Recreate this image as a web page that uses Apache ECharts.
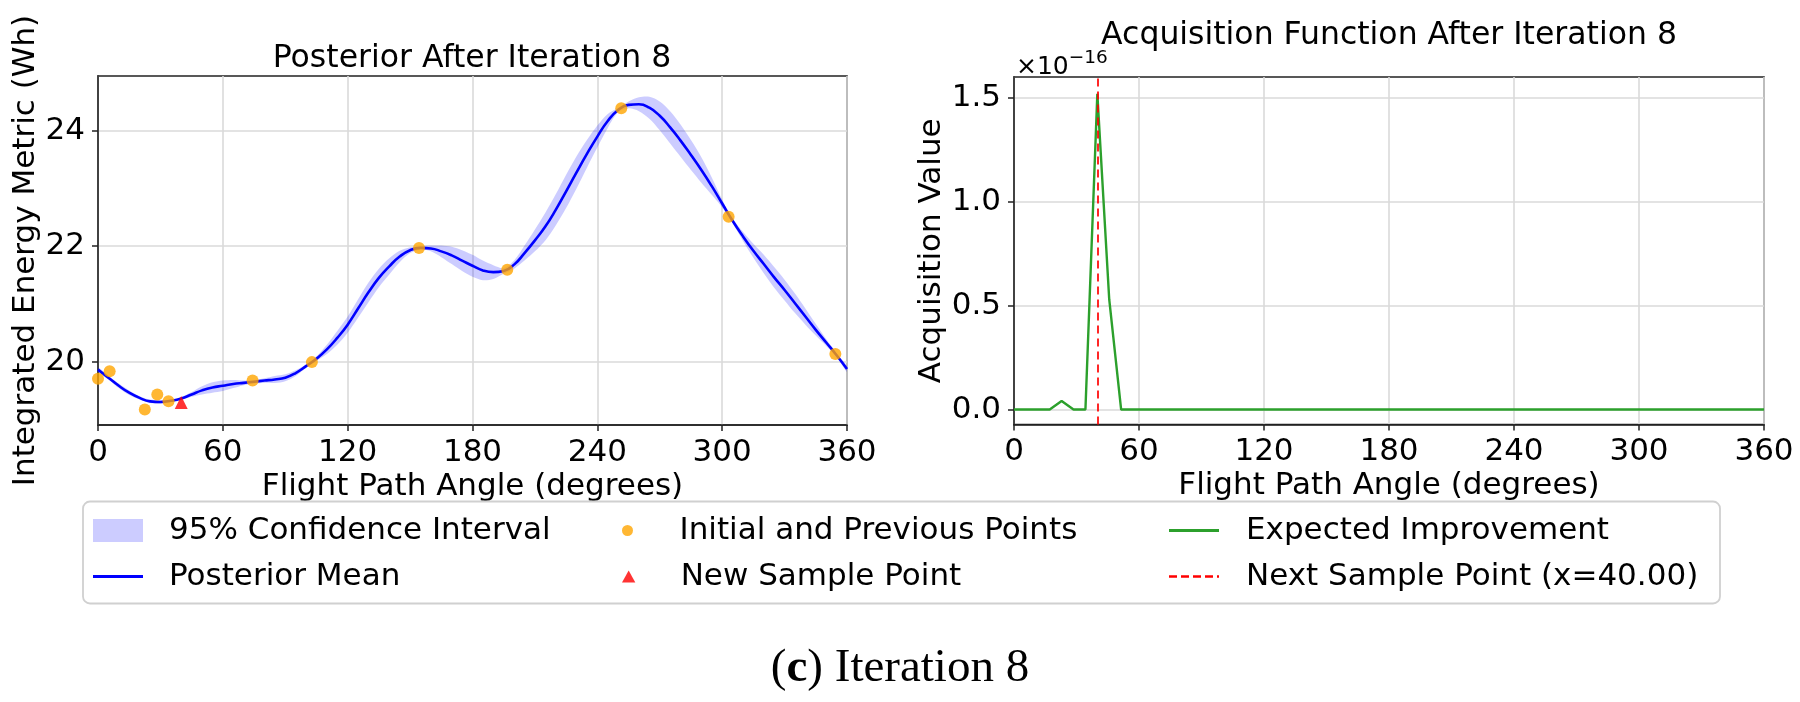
<!DOCTYPE html>
<html>
<head>
<meta charset="utf-8">
<script src="https://cdn.jsdelivr.net/npm/echarts@6/dist/echarts.min.js"></script>
<style>
html,body{margin:0;padding:0;background:#fff;}
#chart{width:1800px;height:702px;}
</style>
</head>
<body>
<div id="chart"></div>
<script>
// ---------- data ----------
const xTicks = [0, 60, 120, 180, 240, 300, 360];
const leftYTicks = [20, 22, 24];
const rightYTicks = [0, 0.5e-16, 1.0e-16, 1.5e-16];

// posterior (left panel), read every 5 degrees
const gridX = [0,5,10,15,20,25,30,35,40,45,50,55,60,65,70,75,80,85,90,95,100,105,110,115,120,125,130,135,140,145,150,155,160,165,170,175,180,185,190,195,200,205,210,215,220,225,230,235,240,245,250,255,260,265,270,275,280,285,290,295,300,305,310,315,320,325,330,335,340,345,350,355,360];
const posteriorMean = [19.86,19.72,19.58,19.46,19.37,19.31,19.30,19.32,19.36,19.43,19.50,19.55,19.58,19.61,19.63,19.65,19.67,19.69,19.72,19.80,19.92,20.05,20.21,20.41,20.64,20.92,21.20,21.45,21.65,21.82,21.93,21.97,21.96,21.91,21.84,21.75,21.66,21.58,21.55,21.57,21.68,21.88,22.10,22.34,22.63,22.95,23.28,23.60,23.90,24.17,24.36,24.45,24.46,24.40,24.26,24.06,23.83,23.58,23.32,23.04,22.74,22.44,22.17,21.92,21.69,21.46,21.24,21.01,20.78,20.55,20.33,20.11,19.87];
const ciHalfWidth = [0.04,0.03,0.04,0.04,0.03,0.03,0.03,0.02,0.02,0.04,0.07,0.09,0.09,0.07,0.04,0.03,0.04,0.06,0.06,0.05,0.03,0.04,0.08,0.12,0.14,0.16,0.17,0.16,0.14,0.10,0.05,0.03,0.05,0.10,0.15,0.18,0.19,0.17,0.12,0.05,0.07,0.13,0.19,0.24,0.27,0.29,0.28,0.24,0.19,0.12,0.04,0.06,0.12,0.19,0.25,0.28,0.28,0.26,0.22,0.15,0.07,0.04,0.08,0.12,0.16,0.18,0.18,0.17,0.14,0.10,0.06,0.03,0.05];

const prevPointsX = [0, 5.6, 22.5, 28.5, 33.9, 74.3, 102.8, 154.3, 196.7, 251.5, 303.1, 354.4];
const prevPointsY = [19.70, 19.83, 19.17, 19.43, 19.31, 19.67, 19.99, 21.97, 21.59, 24.39, 22.51, 20.13];
const newPointX = [40.0];
const newPointY = [19.29];

// acquisition (right panel)
const eiX = [0, 5.71, 11.43, 17.14, 22.86, 28.57, 34.29, 40.00, 45.71, 51.43, 360];
const eiValue = [0, 0, 0, 0, 0.041e-16, 0, 0, 1.52e-16, 0.53e-16, 0, 0];
const nextSampleX = 40.00;

// ---------- styling ----------
const F = 'DejaVu Sans';
const TXT = '#000';
const FS = 31;
const nextName = 'Next Sample Point (x=' + nextSampleX.toFixed(2) + ')';

function xAxisCfg(gi) {
  return {
    type: 'value', gridIndex: gi, min: 0, max: 360, interval: 60,
    name: 'Flight Path Angle (degrees)', nameLocation: 'middle', nameGap: 46,
    nameTextStyle: {fontSize: FS, color: TXT, fontFamily: F},
    axisLine: {show: true, onZero: false, lineStyle: {color: '#222', width: 1.6}},
    axisTick: {show: true, length: 6, customValues: xTicks, lineStyle: {color: '#222', width: 1.5}},
    axisLabel: {fontSize: FS, color: TXT, fontFamily: F, margin: 12, customValues: xTicks},
    splitLine: {show: true, lineStyle: {color: '#dadada', width: 1.6}}
  };
}
function yAxisCfg(gi, name, gap, min, max, ticks, fmt) {
  return {
    type: 'value', gridIndex: gi, min: min, max: max, splitNumber: 3,
    name: name, nameLocation: 'middle', nameGap: gap,
    nameTextStyle: {fontSize: FS, color: TXT, fontFamily: F},
    axisLine: {show: true, onZero: false, lineStyle: {color: '#222', width: 1.6}},
    axisTick: {show: true, length: 6, customValues: ticks, lineStyle: {color: '#222', width: 1.5}},
    axisLabel: {fontSize: FS, color: TXT, fontFamily: F, margin: 13, customValues: ticks, formatter: fmt},
    splitLine: {show: true, lineStyle: {color: '#dadada', width: 1.6}}
  };
}
function legendCfg(left, top, w, h, item, pad) {
  return {
    left: left, top: top, padding: 0, itemWidth: w, itemHeight: h,
    selectedMode: false, orient: 'horizontal', z: 10,
    textStyle: {fontSize: FS, color: TXT, fontFamily: F, padding: [0, 0, 0, pad]},
    data: [item]
  };
}

const blue = '#0000ff';
const band = 'rgba(0,0,255,0.2)';
const orange = '#ffa500';
const green = '#2ca02c';
const red = '#ff0000';

const option = {
  animation: false,
  backgroundColor: '#fff',
  textStyle: {fontFamily: F},
  title: [
    {text: 'Posterior After Iteration 8', left: 472, top: 43, textAlign: 'center', padding: 0,
     textStyle: {fontSize: 31.5, fontWeight: 'normal', color: TXT, fontFamily: F}},
    {text: 'Acquisition Function After Iteration 8', left: 1389, top: 20, textAlign: 'center', padding: 0,
     textStyle: {fontSize: 31.5, fontWeight: 'normal', color: TXT, fontFamily: F}},
    {text: '{p|(}{b|c}{p|) Iteration 8}', left: 900, top: 645, textAlign: 'center', padding: 0,
     textStyle: {fontWeight: 'normal', fontSize: 47, fontFamily: 'Liberation Serif', rich: {
       p: {fontSize: 47, fontFamily: 'Liberation Serif', fontWeight: 'normal', color: TXT},
       b: {fontSize: 47, fontFamily: 'Liberation Serif', fontWeight: 'bold', color: TXT}
     }}}
  ],
  grid: [
    {left: 98, top: 76, width: 749, height: 349, show: true, borderColor: '#222', borderWidth: 1.6, backgroundColor: 'transparent'},
    {left: 1014, top: 77, width: 750, height: 347.5, show: true, borderColor: '#222', borderWidth: 1.6, backgroundColor: 'transparent'}
  ],
  xAxis: [xAxisCfg(0), xAxisCfg(1)],
  yAxis: [
    yAxisCfg(0, 'Integrated Energy Metric (Wh)', 55, 18.9, 24.95, leftYTicks, v => String(Math.round(v))),
    yAxisCfg(1, 'Acquisition Value', 63, -0.072e-16, 1.601e-16, rightYTicks, v => (v / 1e-16).toFixed(1))
  ],
  legend: [
    legendCfg(93, 515, 50, 23, {name: '95% Confidence Interval', icon: 'rect', itemStyle: {color: band, borderWidth: 0}}, 21),
    legendCfg(93, 561, 50, 3, {name: 'Posterior Mean', icon: 'rect', itemStyle: {color: blue, borderWidth: 0}}, 21),
    legendCfg(622, 515, 50, 11, {name: 'Initial and Previous Points', icon: 'circle', itemStyle: {color: orange, borderWidth: 0}}, 22),
    legendCfg(622, 561, 50, 12, {name: 'New Sample Point', icon: 'path://M5,0L10,9L0,9Z', itemStyle: {color: red, borderWidth: 0}}, 22),
    legendCfg(1169, 515, 50, 3, {name: 'Expected Improvement', icon: 'rect', itemStyle: {color: green, borderWidth: 0}}, 22),
    legendCfg(1169, 561, 50, 3, {name: nextName, icon: 'path://M0,0h8v2.4h-8zM12,0h8v2.4h-8zM24,0h8v2.4h-8zM36,0h8v2.4h-8zM48,0h2v2.4h-2z', itemStyle: {color: red, borderWidth: 0}}, 22)
  ],
  graphic: [
    {type: 'rect', z: 1, shape: {x: 83, y: 501.5, width: 1637, height: 102, r: 7},
     style: {fill: 'rgba(255,255,255,0.8)', stroke: '#d0d0d0', lineWidth: 1.8}},
    {type: 'text', z: 5, x: 1016, y: 49,
     style: {text: '{a|×10}{b|−16}', rich: {
       a: {fontSize: 25, fontFamily: F, fill: TXT, lineHeight: 31, verticalAlign: 'bottom'},
       b: {fontSize: 18.5, fontFamily: F, fill: TXT, lineHeight: 20, verticalAlign: 'top'}
     }}}
  ],
  series: [
    {name: '95% Confidence Interval', type: 'custom', xAxisIndex: 0, yAxisIndex: 0, clip: true, silent: true, z: 2,
     color: band,
     data: gridX.map((x, i) => [x, posteriorMean[i] - ciHalfWidth[i], posteriorMean[i] + ciHalfWidth[i]]),
     encode: {x: 0, y: [1, 2]},
     renderItem: function (params, api) {
       if (params.dataIndex !== 0) return null;
       const upper = gridX.map((x, i) => api.coord([x, posteriorMean[i] + ciHalfWidth[i]]));
       const lower = gridX.map((x, i) => api.coord([x, posteriorMean[i] - ciHalfWidth[i]])).reverse();
       return {type: 'polygon', shape: {points: upper.concat(lower), smooth: 0.3}, style: {fill: band}};
     }},
    {name: 'Posterior Mean', type: 'line', xAxisIndex: 0, yAxisIndex: 0, symbol: 'none', smooth: 0.5, z: 3,
     color: blue, lineStyle: {color: blue, width: 2.6},
     data: gridX.map((x, i) => [x, posteriorMean[i]])},
    {name: 'Initial and Previous Points', type: 'scatter', xAxisIndex: 0, yAxisIndex: 0, symbol: 'circle', symbolSize: 12, z: 4,
     color: orange, itemStyle: {color: orange},
     data: prevPointsX.map((x, i) => [x, prevPointsY[i]])},
    {name: 'New Sample Point', type: 'scatter', xAxisIndex: 0, yAxisIndex: 0, symbol: 'triangle', symbolSize: 13, z: 5,
     color: red, itemStyle: {color: red},
     data: newPointX.map((x, i) => [x, newPointY[i]])},
    {name: 'Expected Improvement', type: 'line', xAxisIndex: 1, yAxisIndex: 1, symbol: 'none', z: 3,
     color: green, lineStyle: {color: green, width: 2.4},
     data: eiX.map((x, i) => [x, eiValue[i]])},
    {name: nextName, type: 'line', xAxisIndex: 1, yAxisIndex: 1, symbol: 'none', z: 4, color: red,
     data: [],
     markLine: {silent: true, symbol: 'none', label: {show: false},
       lineStyle: {color: 'rgba(255,0,0,0.85)', width: 2, type: [8, 5]},
       data: [{xAxis: nextSampleX}]}}
  ]
};

const chart = echarts.init(document.getElementById('chart'), null, {renderer: 'canvas'});
chart.setOption(option);
</script>
</body>
</html>
